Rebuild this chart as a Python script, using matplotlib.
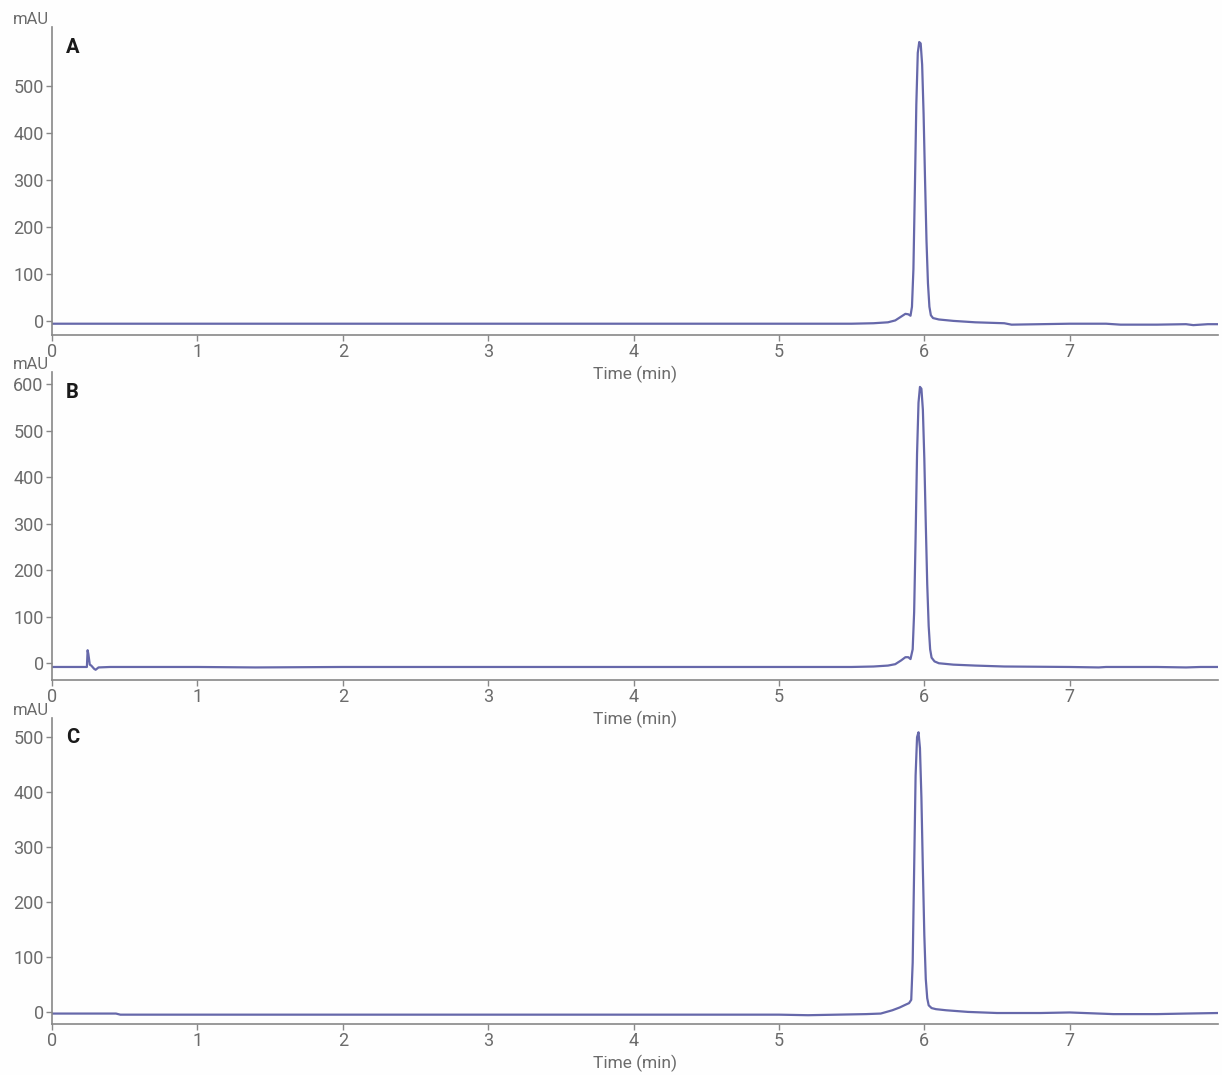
import matplotlib
matplotlib.use("Agg")
import matplotlib.pyplot as plt

plt.rcParams['font.family'] = ['Roboto', 'DejaVu Sans']

# ---- data (time in min, signal in mAU) ----
A_time = [0.0, 1.0, 2.0, 3.0, 4.0, 5.0, 5.5, 5.65, 5.75, 5.8, 5.84, 5.87, 5.89, 5.905, 5.915,
          5.925, 5.935, 5.945, 5.955, 5.965, 5.975, 5.985, 5.995, 6.005, 6.015, 6.025,
          6.035, 6.045, 6.06, 6.1, 6.2, 6.35, 6.55, 6.6, 6.8, 7.0, 7.25, 7.35, 7.6,
          7.8, 7.85, 7.95, 8.02]
A_vals = [-6, -6, -6, -6, -6, -6, -6, -5, -3, 1, 9, 15, 14, 11, 30,
          110, 280, 460, 570, 593, 590, 545, 440, 300, 170, 80,
          30, 12, 6, 3, 0, -3, -5, -8, -7, -6, -6, -8, -8,
          -7, -9, -7, -7]

B_time = [0.0, 0.1, 0.2, 0.24, 0.245, 0.25, 0.26, 0.27, 0.29, 0.3, 0.32, 0.4, 0.85, 1.0,
          1.4, 2.0, 3.0, 4.0, 5.0, 5.5, 5.65, 5.75, 5.8, 5.84, 5.87, 5.89, 5.905, 5.92,
          5.93, 5.94, 5.95, 5.96, 5.97, 5.98, 5.99, 6.0, 6.01, 6.02, 6.03, 6.04,
          6.05, 6.07, 6.1, 6.2, 6.35, 6.55, 7.0, 7.2, 7.25, 7.6, 7.8, 7.9, 8.02]
B_vals = [-8, -8, -8, -8, 28, 20, -3, -5, -12, -14, -9, -8, -8, -8,
          -9, -8, -8, -8, -8, -8, -7, -5, -2, 6, 13, 13, 9, 30,
          110, 270, 450, 560, 594, 590, 545, 440, 300, 170, 80, 30,
          12, 4, 0, -3, -5, -7, -8, -9, -8, -8, -9, -8, -8]

C_time = [0.0, 0.44, 0.47, 1.0, 2.0, 3.0, 4.0, 5.0, 5.2, 5.4, 5.6, 5.7, 5.78, 5.83, 5.87,
          5.895, 5.91, 5.92, 5.93, 5.94, 5.95, 5.96, 5.97, 5.98, 5.99, 6.0, 6.01,
          6.02, 6.03, 6.05, 6.08, 6.15, 6.3, 6.5, 6.8, 7.0, 7.2, 7.3, 7.6, 7.8, 8.02]
C_vals = [-3, -3, -5, -5, -5, -5, -5, -5, -6, -5, -4, -3, 3, 8, 13,
          16, 22, 90, 260, 430, 500, 509, 480, 390, 260, 140, 60,
          25, 12, 7, 5, 3, 0, -2, -2, -1, -3, -4, -4, -3, -2]

panels = ["A", "B", "C"]
series_t = [A_time, B_time, C_time]
series_y = [A_vals, B_vals, C_vals]
ylims = [(-30, 625), (-36, 626), (-22, 535)]
yticks = [[0, 100, 200, 300, 400, 500],
          [0, 100, 200, 300, 400, 500, 600],
          [0, 100, 200, 300, 400, 500]]
xticks = [0, 1, 2, 3, 4, 5, 6, 7]

W, H = 1222, 1075
fig = plt.figure(figsize=(W / 100, H / 100), dpi=100, facecolor="#fefefe")
# pixel boxes (left, top, right, bottom)
boxes = [(52, 27, 1218, 335), (52, 372, 1218, 680), (52, 718, 1218, 1024)]

gray = "#6b6b6b"
line_color = "#6668aa"

for lab, t, y, yl, yt, (l, tp, r, b) in zip(panels, series_t, series_y, ylims, yticks, boxes):
    ax = fig.add_axes([l / W, 1 - b / H, (r - l) / W, (b - tp) / H])
    ax.patch.set_visible(False)
    ax.plot(t, y, color=line_color, lw=1.6, solid_joinstyle="round")
    ax.set_xlim(0, 8.02)
    ax.set_ylim(*yl)
    ax.set_xticks(xticks)
    ax.set_yticks(yt)
    for s in ["top", "right"]:
        ax.spines[s].set_visible(False)
    for s in ["left", "bottom"]:
        ax.spines[s].set_color("#888888")
        ax.spines[s].set_linewidth(1.2)
    ax.tick_params(colors="#888888", labelcolor=gray, labelsize=13, length=4, width=1, pad=2)
    ax.set_xlabel("Time (min)", color=gray, fontsize=12.5, labelpad=3)
    ax.text(-0.018, 1.0, "mAU", transform=ax.transAxes, ha="center", va="bottom",
            color=gray, fontsize=12)
    ax.text(0.012, 0.935, lab, transform=ax.transAxes, ha="left", va="center",
            fontsize=14.5, fontweight="bold", color="#1a1a1a")

fig.savefig("out.png", dpi=100, facecolor=fig.get_facecolor())
